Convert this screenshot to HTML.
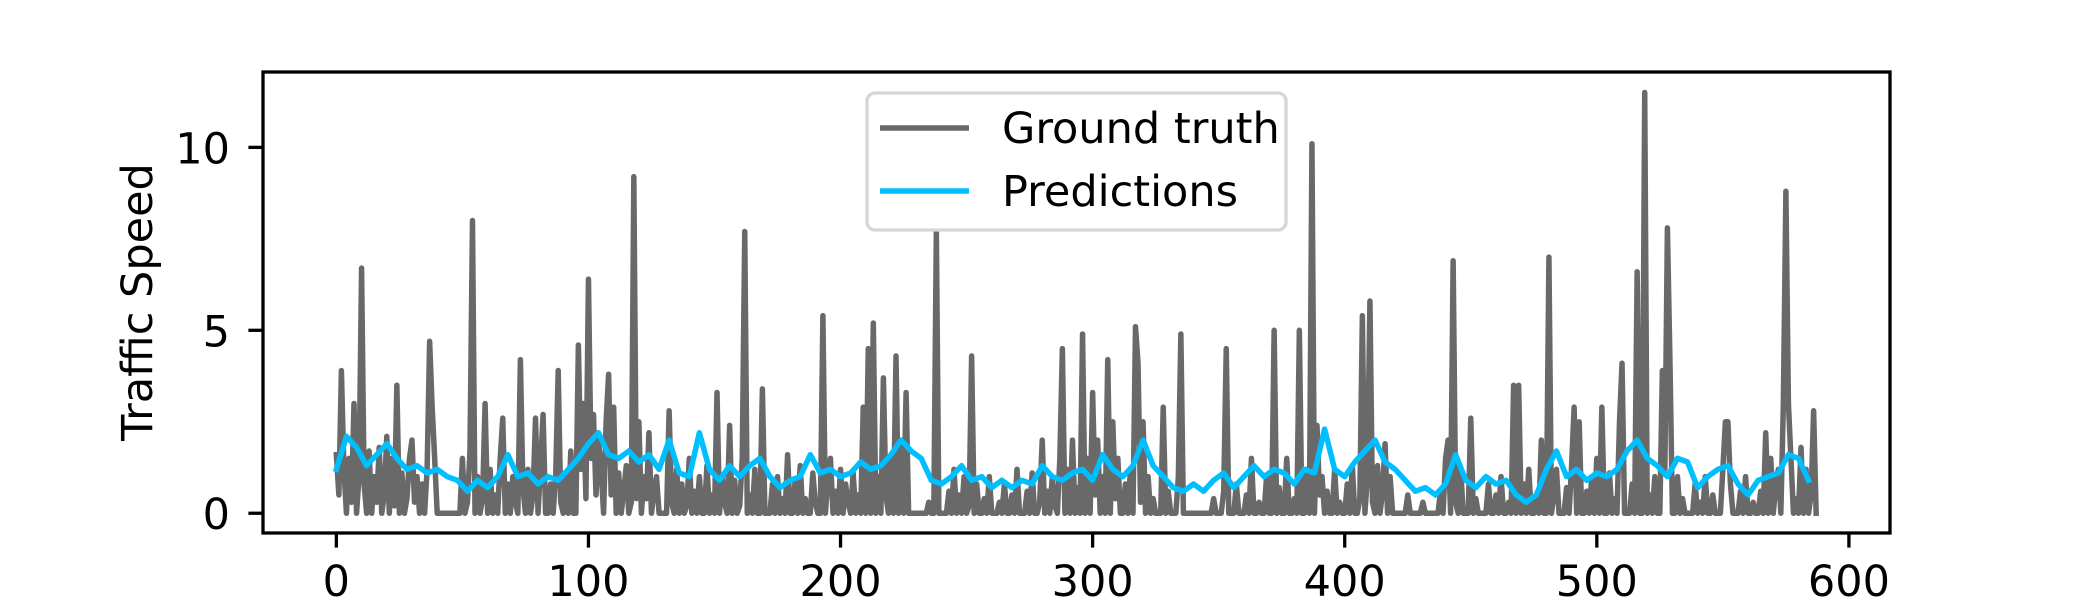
<!DOCTYPE html>
<html><head><meta charset="utf-8"><style>
html,body{margin:0;padding:0;background:#fff;}
svg{display:block;font-family:"DejaVu Sans","Liberation Sans",sans-serif;}
</style></head><body>
<svg id="chart" width="2100" height="600" viewBox="0 0 2100 600" xmlns="http://www.w3.org/2000/svg">
<rect width="2100" height="600" fill="#fff"/>
<g id="plot"></g>
</svg>
<script>
const groundTruth = [
1.6,0.5,3.9,1.2,0,1.5,0.3,3.0,0,1.0,6.7,0.8,0,1.7,0,1.0,0.3,1.8,0,0.5,
2.1,0,1.5,0.2,3.5,0,1.1,0,0.4,1.5,2.0,0.3,1.0,0,0.8,0,1.2,4.7,2.9,1.5,
0,0,0,0,0,0,0,0,0,0,1.5,0,0.3,1.7,8.0,0,1.0,0,0.4,3.0,
0,1.2,0,0.5,0,1.5,2.6,0,0.8,0,1.0,0.3,0,4.2,0.7,0,1.2,0,0.5,2.6,
0,1.3,2.7,0,0,0.8,0,1.0,3.9,0.3,0,1.0,0,1.7,0,0,4.6,1.2,3.0,0.4,
6.4,1.5,2.7,0.5,2.0,1.2,0,2.5,3.8,0.5,2.9,0,1.1,0,0.6,1.3,0,0.3,9.2,0.4,
2.5,0,1.0,0.4,2.2,0,0.6,1.0,0,0,0,0,2.8,0.3,0,1.2,0,0.8,0,0.2,
1.5,0,0.6,0,1.0,0,0,1.3,0,0.5,0,3.3,0,1.0,0.3,0,2.4,0,0.9,0,
0.2,1.5,7.7,0,0.5,0,1.2,0,0,3.4,0,0,0,0.8,0,1.0,0,0.4,0,1.6,
0,0,0.9,0,1.3,0,0.4,0,0,1.1,0.3,0,0,5.4,0,1.0,1.5,0,0.6,0,
1.2,0,0.8,0.3,0,1.1,0,0.5,0,2.9,0,4.5,0,5.2,0,1.0,0,3.7,0.5,0,
1.5,0,4.3,0,2.0,0,3.3,0,0,0,0,0,0,0,0,0.3,0,0,7.7,0,
0,0,0,0.6,0,1.2,0,0.5,0,1.0,0,0.2,4.3,0,0.8,0,0,0.4,0,1.0,
0,0,0,0.3,0,0.8,0,0,0.5,0,1.2,0,0,0,0.6,0,1.1,0,0,0.3,
2.0,0,0.6,0,1.0,0.2,0,1.5,4.5,0,1.2,0,2.0,0,0.7,0,4.9,0,1.5,0,
3.3,0.5,2.0,0,1.0,0,4.2,0,2.5,0.4,1.5,0,0,0.8,0,1.2,0,5.1,4.1,0.3,
2.5,0,1.0,0,0.4,0,0,0,2.9,0,0.6,0,0,0,1.0,4.9,0,0,0,0,
0,0,0,0,0,0,0,0,0.4,0,0,0,0.6,4.5,0,0,0,0.8,0,0,
0,0.5,0,1.5,0,0,0.3,0,0,1.0,0,0,5.0,0,0.7,0,0,1.5,0,0,
0.4,0,5.0,0,0,1.2,0,10.1,0,2.4,0.5,1.0,0,0.6,0,0,1.2,0,0.3,0,
0,0.8,0,1.3,0,0,0.4,5.4,0,1.0,5.8,0.3,0,1.3,0,0.6,1.9,0,1.0,0,
0,0,0,0,0,0.5,0,0,0,0,0,0.3,0,0,0,0,0,0,0.6,0,
1.5,2.0,0,6.9,0.3,0,1.2,0,0,0,2.6,0,0.4,0,0,0,0,0.8,0,0,
0.5,0,1.0,0,0,0.3,0,3.5,0,3.5,0,0.8,0,1.2,0,0,0.4,0,2.0,0,
0,7.0,0,0.5,1.2,0,0,0,0.7,0,1.3,2.9,0,2.5,0,0,0.6,0,1.0,0,
1.5,0,2.9,0,0,1.1,0,0.4,0,2.5,4.1,0,0,0,0.8,0,6.6,0,0,11.5,
0,0.5,0,1.0,0,0,3.9,1.2,7.8,4.2,0,0,1.0,0,0.4,0,0,0,0,0.8,
0,0.3,0,1.0,0,0,0.5,0,0,0,1.2,2.5,2.5,0.8,0,0,0,0.6,0,1.0,
0,0,0.3,0,0,0.6,0,2.2,0,1.5,0,0.8,1.2,0,3.0,8.8,3.0,1.5,0,0.4,
0,1.8,0,1.2,0,0.5,2.8,0
];
const predStep = 4;
const predictions = [
1.2,2.1,1.8,1.3,1.6,1.9,1.5,1.2,1.3,1.1,
1.2,1.0,0.9,0.6,0.9,0.7,1.0,1.6,1.0,1.1,
0.8,1.0,0.9,1.2,1.5,1.9,2.2,1.6,1.5,1.7,
1.4,1.6,1.2,2.0,1.1,1.0,2.2,1.2,0.9,1.3,
1.0,1.3,1.5,1.0,0.7,0.9,1.0,1.6,1.1,1.2,
1.0,1.1,1.4,1.2,1.3,1.6,2.0,1.7,1.5,0.9,
0.8,1.0,1.3,0.9,1.0,0.7,0.9,0.7,0.9,0.8,
1.3,1.0,0.9,1.1,1.2,0.9,1.6,1.2,1.0,1.3,
2.0,1.3,1.0,0.7,0.6,0.8,0.6,0.9,1.1,0.7,
1.0,1.3,1.0,1.2,1.1,0.8,1.2,1.1,2.3,1.2,
1.0,1.4,1.7,2.0,1.4,1.2,0.9,0.6,0.7,0.5,
0.8,1.6,0.9,0.7,1.0,0.8,0.9,0.5,0.3,0.5,
1.2,1.7,1.0,1.2,0.9,1.1,1.0,1.2,1.7,2.0,
1.5,1.3,1.0,1.5,1.4,0.7,1.0,1.2,1.3,0.8,
0.5,0.9,1.0,1.1,1.6,1.5,0.9
];
const xTicks = [0,100,200,300,400,500,600];
const yTicks = [0,5,10];
const xTickLabels = ["0","100","200","300","400","500","600"];
const yTickLabels = ["0","5","10"];

const NS = "http://www.w3.org/2000/svg";
const L = 263, R = 1890, T = 72, B = 533;
const xMin = -29.1, xMax = 616.3, yMin = -0.54, yMax = 12.06;
function xs(v){ return L + (v - xMin) / (xMax - xMin) * (R - L); }
function ys(v){ return B - (v - yMin) / (yMax - yMin) * (B - T); }
const g = document.getElementById('plot');
function mk(tag, attrs){ const e = document.createElementNS(NS, tag); for (const k in attrs) e.setAttribute(k, attrs[k]); g.appendChild(e); return e; }

let d = groundTruth.map((v,i)=>(i?'L':'M')+xs(i).toFixed(2)+' '+ys(v).toFixed(2)).join('');
const gt = mk('path', {d:d, fill:'none', stroke:'#696969', 'stroke-width':5.5, 'stroke-linejoin':'round', 'stroke-linecap':'square'});



d = predictions.map((v,i)=>(i?'L':'M')+xs(i*predStep).toFixed(2)+' '+ys(v).toFixed(2)).join('');
const pr = mk('path', {d:d, fill:'none', stroke:'#00BFFF', 'stroke-width':5.5, 'stroke-linejoin':'round', 'stroke-linecap':'square'});



const fr = mk('rect', {x:L, y:T, width:R-L, height:B-T, fill:'none', stroke:'#000', 'stroke-width':3.3});



xTicks.forEach((v,i)=>{
  const t = mk('line', {x1:xs(v), x2:xs(v), y1:B, y2:B+14.6, stroke:'#000', 'stroke-width':3.3});
  
  
  const tx = mk('text', {x:xs(v), y:596, 'text-anchor':'middle', 'font-size':43, fill:'#000'});
  tx.textContent = xTickLabels[i];
  
  
});
yTicks.forEach((v,i)=>{
  const t = mk('line', {x1:L-14.6, x2:L, y1:ys(v), y2:ys(v), stroke:'#000', 'stroke-width':3.3});
  
  
  const tx = mk('text', {x:230, y:ys(v)+16, 'text-anchor':'end', 'font-size':43, fill:'#000'});
  tx.textContent = yTickLabels[i];
  
  
});
const yl = mk('text', {x:0, y:0, transform:'translate(152,302) rotate(-90)', 'text-anchor':'middle', 'font-size':43, fill:'#000'});
yl.textContent = 'Traffic Speed';



const lg = mk('rect', {x:867, y:93, width:419, height:137, rx:8, fill:'#fff', 'fill-opacity':0.8, stroke:'#d6d6d6', 'stroke-width':3.3});


const entries = [['Ground truth','#696969',128,'legend-entry-ground-truth'],['Predictions','#00BFFF',191,'legend-entry-predictions']];
entries.forEach(e=>{
  const ln = mk('line', {x1:880, x2:969, y1:e[2], y2:e[2], stroke:e[1], 'stroke-width':5.5});
  
  
  const tx = mk('text', {x:1002, y:e[2]+15, 'font-size':43, fill:'#000'});
  tx.textContent = e[0];
  
  
});
</script>
</body></html>
